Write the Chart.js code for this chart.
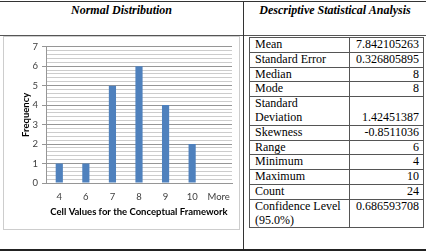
<!DOCTYPE html>
<html>
<head>
<meta charset="utf-8">
<script src="https://cdn.jsdelivr.net/npm/chart.js@4.4.1/dist/chart.umd.min.js"></script>
<style>
html, body { margin:0; padding:0; background:#fff; }
body { width:426px; height:252px; position:relative; overflow:hidden; font-family:"Liberation Serif","Times New Roman",serif; color:#000; }
.rule { position:absolute; background:#333; }
.head { position:absolute; top:3px; font-weight:bold; font-style:italic; font-size:12px; line-height:14px; text-align:center; }
#chart-box { position:absolute; left:3px; top:36px; width:235px; height:192px; border:1px solid #cdcdcd; }
#stats { position:absolute; left:249px; top:37px; width:174px; table-layout:fixed; border-collapse:collapse; font-size:12px; line-height:13.8px; }
#stats td { border:1px solid #555; padding:0 5px; vertical-align:bottom; }
#stats td.val { text-align:right; padding:0 4px 0 2px; }
#stats tr.top td { vertical-align:top; }
</style>
</head>
<body>
<div class="rule" style="left:0;top:1px;width:426px;height:1px;"></div>
<div class="rule" style="left:0;top:35px;width:426px;height:1px;background:#555;"></div>
<div class="rule" style="left:243px;top:1px;width:1px;height:249px;"></div>
<div class="rule" style="left:0;top:249px;width:426px;height:2px;background:#222;"></div>

<div class="head" style="left:0;width:243px;">Normal Distribution</div>
<div class="head" style="left:244px;width:182px;">Descriptive Statistical Analysis</div>

<div id="chart-box"><canvas id="chart-freq" width="235" height="192"></canvas></div>

<table id="stats">
  <colgroup><col style="width:100px"><col style="width:74px"></colgroup>
  <tbody id="stats-body"></tbody>
</table>

<script>
/* ===== DATA ===== */
const categories  = ['4', '6', '7', '8', '9', '10', 'More'];
const frequencies = [1, 1, 5, 6, 4, 2, 0];
const yMax = 7;
const yMinorStep = 0.2;

const statLabels = ['Mean', 'Standard Error', 'Median', 'Mode', 'Standard Deviation', 'Skewness',
                    'Range', 'Minimum', 'Maximum', 'Count', 'Confidence Level (95.0%)'];
const statValues = ['7.842105263', '0.326805895', '8', '8', '1.42451387', '-0.8511036',
                    '6', '4', '10', '24', '0.686593708'];

/* ===== STATS TABLE ===== */
document.getElementById('stats-body').innerHTML = statLabels.map((lbl, i) =>
  `<tr class="${i === statLabels.length - 1 ? 'top' : ''}"><td>${lbl}</td><td class="val">${statValues[i]}</td></tr>`
).join('');

/* ===== CHART ===== */
const isMajor = v => Math.abs(v - Math.round(v)) < 1e-6;
const axisFont = { family:'Lato, "Open Sans", sans-serif', size:9.5 };
const titleFont = { family:'Lato, "Open Sans", sans-serif', size:9.5, weight:'bold' };

new Chart(document.getElementById('chart-freq'), {
  type: 'bar',
  data: {
    labels: categories,
    datasets: [{
      data: frequencies,
      backgroundColor: '#4f81bd',
      borderWidth: 0,
      categoryPercentage: 1,
      barPercentage: 0.27
    }]
  },
  options: {
    responsive: false,
    animation: false,
    devicePixelRatio: 1,
    layout: { padding: { left:0, right:7, top:9, bottom:0 } },
    plugins: { legend: { display:false }, tooltip: { enabled:false } },
    scales: {
      x: {
        afterFit: s => { s.height = 46; },
        grid: { display:false, drawTicks:false },
        border: { display:true, color:'#969696' },
        ticks: { color:'#404040', font:axisFont, padding:8, maxRotation:0 },
        title: { display:true, text:'Cell Values for the Conceptual Framework', color:'#000',
                 font:titleFont, padding:{ top:0, bottom:11 } }
      },
      y: {
        min: 0, max: yMax,
        afterFit: s => { s.width = 42; },
        grid: {
          color: c => isMajor(c.tick.value) ? '#969696' : '#cccccc',
          tickColor: c => isMajor(c.tick.value) ? '#969696' : 'rgba(0,0,0,0)',
          tickLength: 4
        },
        border: { display:true, color:'#969696' },
        ticks: {
          stepSize: yMinorStep, maxTicksLimit: 100, autoSkip: false,
          color:'#404040', font:axisFont, padding:4,
          callback: v => isMajor(v) ? String(Math.round(v)) : ''
        },
        title: { display:true, text:'Frequency', color:'#000', font:titleFont, padding:{ top:16, bottom:0 } }
      }
    }
  }
});
</script>
</body>
</html>
